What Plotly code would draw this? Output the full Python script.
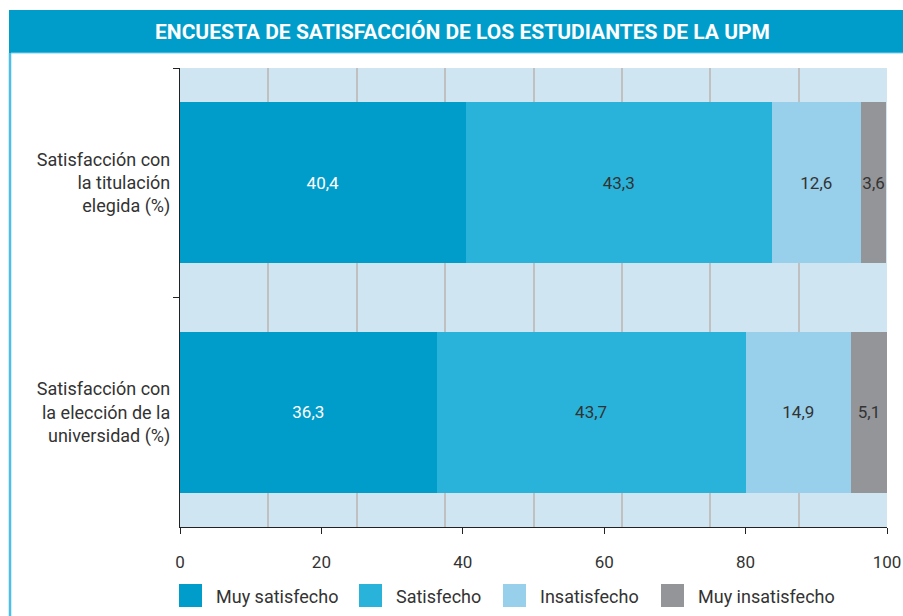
import plotly.graph_objects as go

# ---- data ----
categories = ["Satisfacción con<br>la titulación<br>elegida (%)",
              "Satisfacción con<br>la elección de la<br>universidad (%)"]
series_names = ["Muy satisfecho", "Satisfecho", "Insatisfecho", "Muy insatisfecho"]
muy_satisfecho = [40.4, 36.3]
satisfecho = [43.3, 43.7]
insatisfecho = [12.6, 14.9]
muy_insatisfecho = [3.6, 5.1]
x_ticks = [0, 20, 40, 60, 80, 100]
title_text = "ENCUESTA DE SATISFACCIÓN DE LOS ESTUDIANTES DE LA UPM"

values = [muy_satisfecho, satisfecho, insatisfecho, muy_insatisfecho]
colors = ["#009DCB", "#29B3DA", "#98CFEA", "#939598"]
text_colors = ["#FFFFFF", "#333333", "#333333", "#333333"]

W, H = 903, 616
ML, MR, MT, MB = 180, 16, 68, 89
PW, PH = W - ML - MR, H - MT - MB


def px(x):
    return (x - ML) / PW


def py(y):
    return (H - MB - y) / PH


FONT = "Roboto"

fig = go.Figure()
for name, vals, col, tcol in zip(series_names, values, colors, text_colors):
    fig.add_trace(go.Bar(
        y=categories, x=vals, name=name, orientation="h",
        marker=dict(color=col, line=dict(width=0)),
        texttemplate="%{x:.1f}", textposition="inside", textangle=0,
        insidetextanchor="middle", constraintext="none",
        textfont=dict(family=FONT, size=17, color=tcol),
        showlegend=False, hoverinfo="skip",
    ))

shapes = []
annotations = []
# banner
shapes.append(dict(type="rect", xref="paper", yref="paper",
                   x0=px(9), x1=px(905), y0=py(10), y1=py(53),
                   fillcolor="#009DCB", line=dict(width=0), layer="above"))
shapes.append(dict(type="line", xref="paper", yref="paper",
                   x0=px(11), x1=px(905), y0=py(53), y1=py(53),
                   line=dict(color="#7FD0EE", width=1.2)))
# left frame border
shapes.append(dict(type="line", xref="paper", yref="paper",
                   x0=px(10), x1=px(10), y0=py(53), y1=py(620),
                   line=dict(color="#4CBFE8", width=2.5)))
annotations.append(dict(text="<b>" + title_text + "</b>", xref="paper", yref="paper",
                        x=px(462), y=py(32), showarrow=False,
                        xanchor="center", yanchor="middle",
                        font=dict(family=FONT, size=21, color="#FFFFFF")))

# legend (manual)
legend_x = [179, 359, 503, 661]
for name, col, lx in zip(series_names, colors, legend_x):
    shapes.append(dict(type="rect", xref="paper", yref="paper",
                       x0=px(lx), x1=px(lx + 23), y0=py(584), y1=py(607),
                       fillcolor=col, line=dict(width=0)))
    annotations.append(dict(text=name, xref="paper", yref="paper",
                            x=px(lx + 35), y=py(596), showarrow=False,
                            xanchor="left", yanchor="middle",
                            font=dict(family=FONT, size=18, color="#333333")))

fig.update_layout(
    width=W, height=H,
    margin=dict(l=ML, r=MR, t=MT, b=MB, pad=0, autoexpand=False),
    paper_bgcolor="#FFFFFF", plot_bgcolor="#CFE5F2",
    barmode="stack", bargap=0.3,
    separators=",.",
    font=dict(family=FONT, size=16, color="#333333"),
    shapes=shapes, annotations=annotations,
    showlegend=False,
)
fig.update_xaxes(
    range=[0, 100], tickvals=x_ticks, ticks="outside", ticklen=6, tickwidth=1.2,
    tickcolor="#222222", showline=True, linecolor="#222222", linewidth=1.2,
    showgrid=False, zeroline=False, ticklabelstandoff=13, automargin=False,
    tickfont=dict(family=FONT, size=17, color="#333333"),
    minor=dict(dtick=12.5, tick0=0, showgrid=True, gridcolor="#C0C0C0",
               gridwidth=1.5, ticks=""),
    fixedrange=True,
)
fig.update_yaxes(
    autorange="reversed", tickson="boundaries", ticks="outside", ticklen=6,
    tickwidth=1.2, tickcolor="#222222", showline=True, linecolor="#222222",
    linewidth=1.2, showgrid=False, zeroline=False, automargin=False,
    ticklabelstandoff=5,
    tickfont=dict(family=FONT, size=18, color="#333333"),
    fixedrange=True,
)

fig.write_html("out.html", config={"displayModeBar": False},
               post_script=["document.body.style.margin='0';"])
